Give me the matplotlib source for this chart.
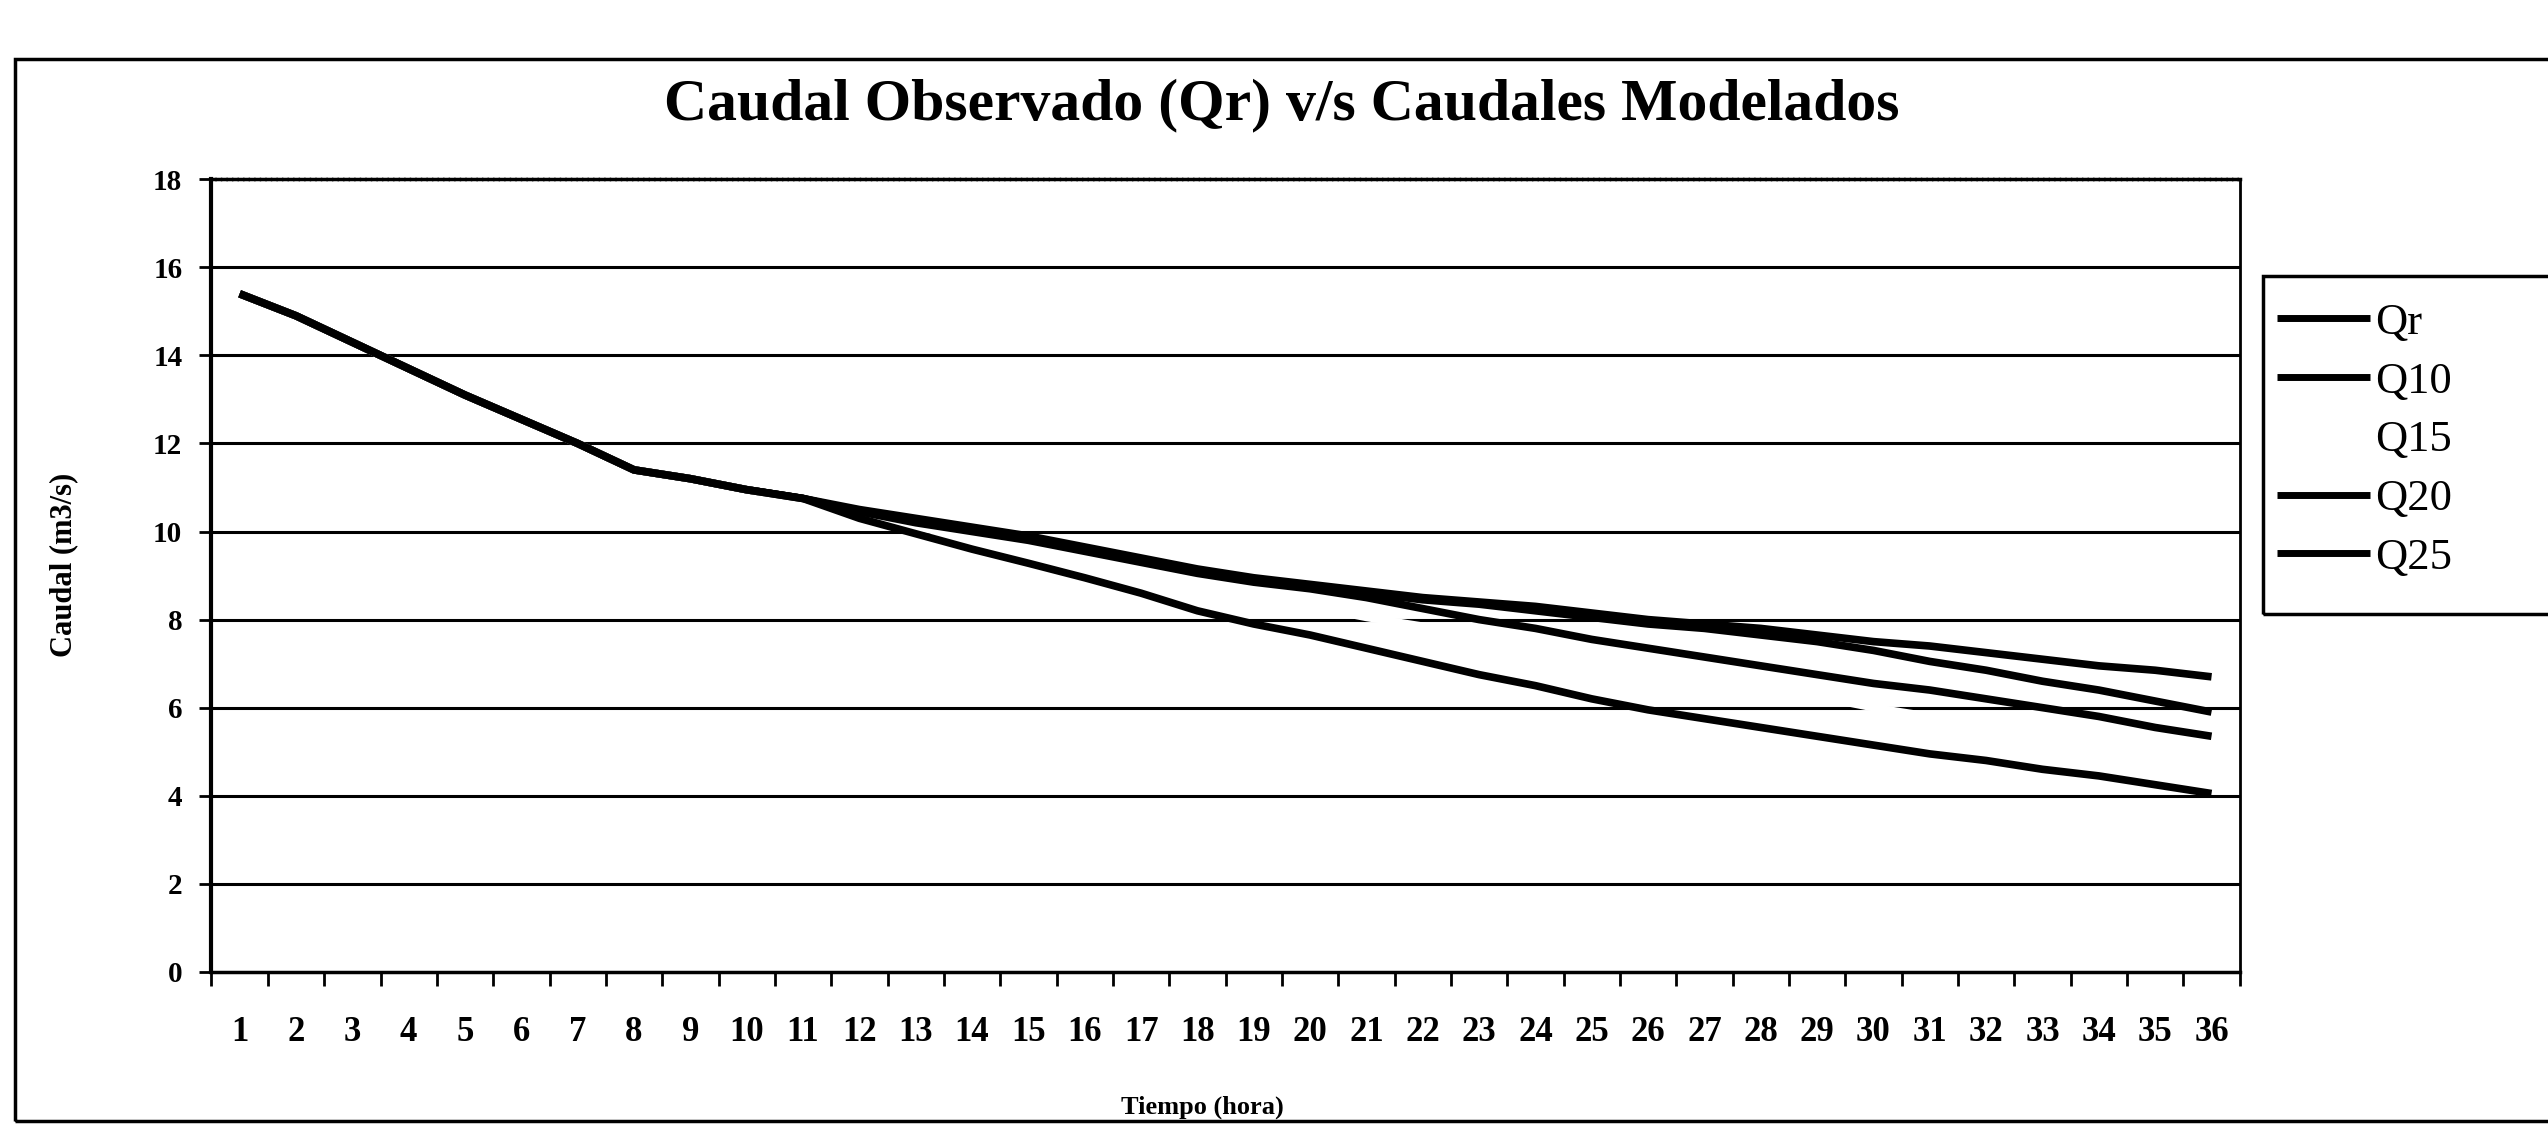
import numpy as np
import matplotlib.pyplot as plt
from matplotlib.patches import Rectangle

# Datos (caudal en m3/s por hora)
horas = list(range(1, 37))
qr = [15.4, 14.9, 14.3, 13.7, 13.1, 12.55, 12.0, 11.4, 11.2, 10.95, 10.75, 10.5,
      10.3, 10.1, 9.9, 9.65, 9.4, 9.15, 8.95, 8.8, 8.65, 8.5, 8.4, 8.3,
      8.15, 8.0, 7.9, 7.8, 7.65, 7.5, 7.4, 7.25, 7.1, 6.95, 6.85, 6.7]
q10 = [15.4, 14.9, 14.3, 13.7, 13.1, 12.55, 12.0, 11.4, 11.2, 10.95, 10.75, 10.45,
       10.25, 10.05, 9.85, 9.6, 9.35, 9.1, 8.9, 8.75, 8.6, 8.45, 8.35, 8.2,
       8.05, 7.9, 7.8, 7.65, 7.5, 7.3, 7.05, 6.85, 6.6, 6.4, 6.15, 5.9]
q15 = [15.4, 14.9, 14.3, 13.7, 13.1, 12.55, 12.0, 11.4, 11.2, 10.95, 10.7, 10.4,
       10.1, 9.85, 9.6, 9.35, 9.1, 8.85, 8.55, 8.3, 8.05, 7.85, 7.6, 7.4,
       7.15, 6.9, 6.7, 6.45, 6.25, 6.0, 5.8, 5.6, 5.4, 5.2, 5.0, 4.8]
q20 = [15.4, 14.9, 14.3, 13.7, 13.1, 12.55, 12.0, 11.4, 11.2, 10.95, 10.75, 10.45,
       10.2, 10.0, 9.8, 9.55, 9.3, 9.05, 8.85, 8.7, 8.5, 8.25, 8.0, 7.8,
       7.55, 7.35, 7.15, 6.95, 6.75, 6.55, 6.4, 6.2, 6.0, 5.8, 5.55, 5.35]
q25 = [15.4, 14.9, 14.3, 13.7, 13.1, 12.55, 12.0, 11.4, 11.2, 10.95, 10.75, 10.3,
       9.95, 9.6, 9.28, 8.95, 8.6, 8.2, 7.9, 7.65, 7.35, 7.05, 6.75, 6.5,
       6.2, 5.95, 5.75, 5.55, 5.35, 5.15, 4.95, 4.8, 4.6, 4.45, 4.25, 4.05]

series = [('Qr', qr, 'black'), ('Q10', q10, 'black'), ('Q15', q15, 'white'),
          ('Q20', q20, 'black'), ('Q25', q25, 'black')]

serif = ['Liberation Serif', 'DejaVu Serif']

fig = plt.figure(figsize=(25.48, 11.42), dpi=100)
ax = fig.add_axes([0.083, 0.149, 0.796, 0.694])

# lineas de division horizontales
for v in range(2, 18, 2):
    ax.axhline(v, color='black', lw=2.2, zorder=1)

for i, (nombre, datos, color) in enumerate(series):
    ax.plot(horas, datos, color=color, lw=5.5, label=nombre,
            solid_capstyle='butt', zorder=2 + i)

ax.set_xlim(0.5, 36.5)
ax.set_ylim(0, 18)
ax.set_xticks(horas)
ax.set_xticklabels([str(h) for h in horas], fontfamily=serif,
                   fontweight='bold', fontsize=25)
ax.xaxis.set_minor_locator(plt.FixedLocator(np.arange(0.5, 37, 1)))
ax.tick_params(axis='x', which='major', length=0, pad=32)
ax.tick_params(axis='x', which='minor', length=10, width=2, direction='out')
ax.set_yticks(range(0, 19, 2))
ax.set_yticklabels([str(v) for v in range(0, 19, 2)], fontfamily=serif,
                   fontweight='bold', fontsize=21)
ax.tick_params(axis='y', length=9, width=2, pad=12)

ax.spines['left'].set_linewidth(3)
ax.spines['bottom'].set_linewidth(2.5)
ax.spines['right'].set_linewidth(2)
ax.spines['top'].set_linewidth(2.5)
ax.spines['top'].set_linestyle((0, (1, 0.6)))

fig.text(0.503, 0.908, 'Caudal Observado (Qr) v/s Caudales Modelados',
         ha='center', va='center', fontfamily=serif, fontweight='bold',
         fontsize=43)
fig.text(0.472, 0.03, 'Tiempo (hora)', ha='center', va='center',
         fontfamily=serif, fontweight='bold', fontsize=19)
fig.text(0.025, 0.505, 'Caudal (m3/s)', ha='center', va='center',
         rotation=90, fontfamily=serif, fontweight='bold', fontsize=22)

leg = fig.legend(loc='upper left', bbox_to_anchor=(0.878, 0.77),
                 frameon=False, prop={'family': serif, 'size': 32},
                 handlelength=2.1, handletextpad=0.1, labelspacing=0.42)
for h in leg.get_lines():
    h.set_linewidth(5)

# marcos exteriores
fig.patches.append(Rectangle((0.888, 0.462), 0.2, 0.296, fill=False,
                             edgecolor='black', lw=2.5,
                             transform=fig.transFigure, figure=fig))
fig.patches.append(Rectangle((0.006, 0.018), 1.2, 0.93, fill=False,
                             edgecolor='black', lw=2.5,
                             transform=fig.transFigure, figure=fig))

fig.savefig('out.png', dpi=100)
